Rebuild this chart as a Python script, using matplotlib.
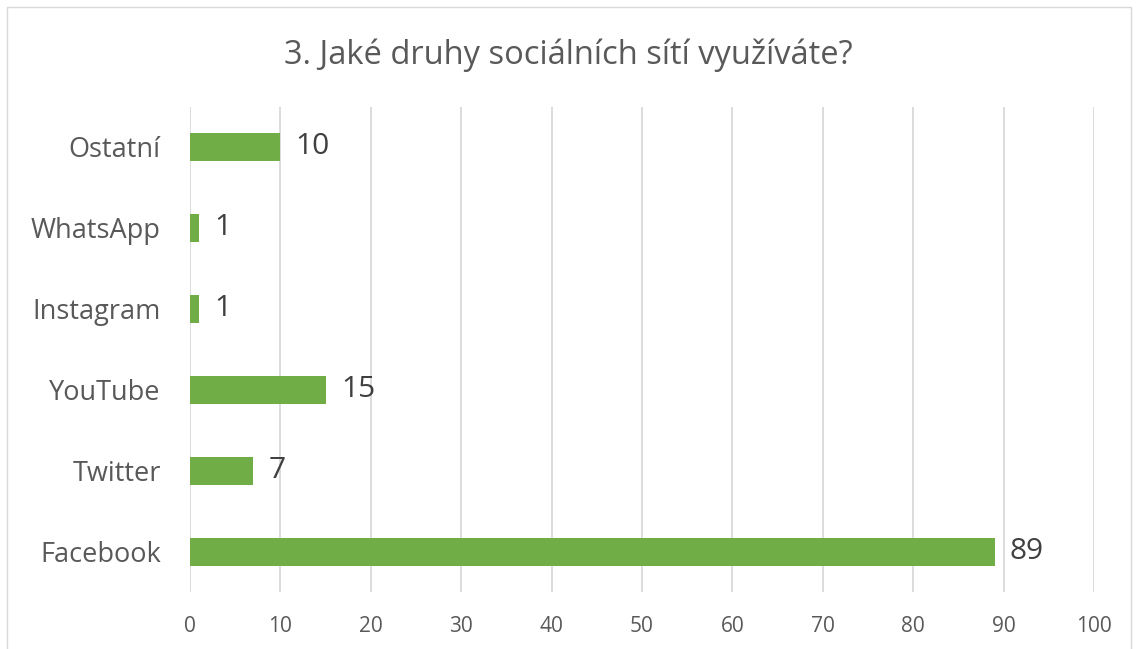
import matplotlib.pyplot as plt
from matplotlib.patches import Rectangle

categories = ["Facebook", "Twitter", "YouTube", "Instagram", "WhatsApp", "Ostatní"]
values = [89, 7, 15, 1, 1, 10]
title = "3. Jaké druhy sociálních sítí využíváte?"

plt.rcParams["font.family"] = ["Open Sans", "DejaVu Sans"]
text_color = "#595959"

fig = plt.figure(figsize=(11.37, 6.49), dpi=100)
ax = fig.add_axes([0.1671, 0.0871, 0.7951, 0.7488])

ax.barh(range(len(categories)), values, height=0.35, color="#70AD47", zorder=3)
for i, v in enumerate(values):
    ax.text(v + 1.7, i, str(v), va="center", ha="left", fontsize=21.5, color="#404040")

ax.set_xlim(0, 100)
ax.set_ylim(-0.5, len(categories) - 0.5)
ax.set_xticks(range(0, 101, 10))
ax.set_yticks(range(len(categories)))
ax.set_yticklabels(categories, fontsize=19.5, color=text_color)
ax.tick_params(axis="x", labelsize=15, colors=text_color, length=0, pad=17)
ax.tick_params(axis="y", length=0, pad=21)
ax.grid(axis="x", color="#D9D9D9", linewidth=1.3, zorder=0)
for s in ax.spines.values():
    s.set_visible(False)

fig.text(0.5, 0.915, title, ha="center", va="center", fontsize=23.5, color=text_color)

# chart border
fig.patches.append(Rectangle((7 / 1137, -0.01), 1124 / 1137, 1 - 7 / 649 + 0.01,
                             transform=fig.transFigure, fill=False,
                             edgecolor="#D9D9D9", linewidth=1))

fig.savefig("out.png", dpi=100)
